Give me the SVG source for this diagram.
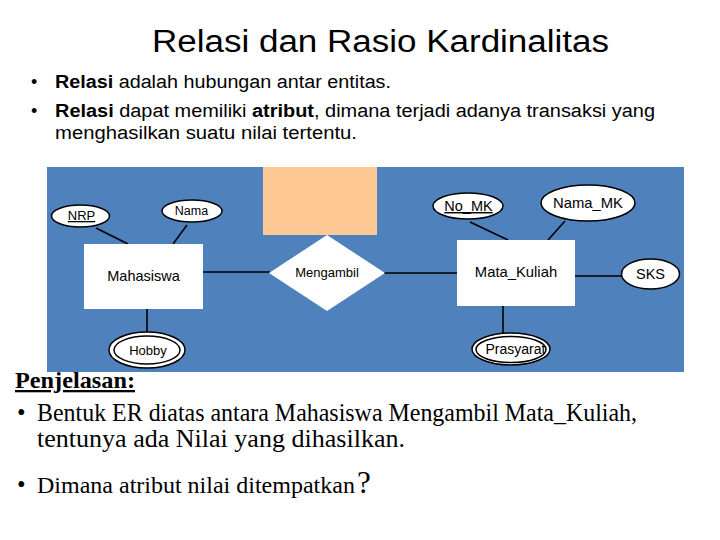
<svg xmlns="http://www.w3.org/2000/svg" width="720" height="540" viewBox="0 0 720 540">
<style>
.cal{font-family:"Liberation Sans","Noto Sans",sans-serif;fill:#000}
.tim{font-family:"Liberation Serif","DejaVu Serif",serif;fill:#000}
.er{font-family:"Liberation Sans",Arial,sans-serif;fill:#000;text-anchor:middle}
.ent{fill:#fff;stroke:none}
.att{fill:#fff;stroke:#000;stroke-width:1.5}
.ln{stroke:#000;stroke-width:1.6;fill:none}
</style>
<rect width="720" height="540" fill="#fff"/>
<text class="cal" x="152" y="52" font-size="31" textLength="457" lengthAdjust="spacingAndGlyphs">Relasi dan Rasio Kardinalitas</text>
<g class="cal" font-size="18">
<text x="31" y="88">•</text>
<text x="55" y="88" textLength="336" lengthAdjust="spacingAndGlyphs"><tspan font-weight="bold">Relasi</tspan> adalah hubungan antar entitas.</text>
<text x="31" y="117">•</text>
<text x="55" y="117" textLength="600" lengthAdjust="spacingAndGlyphs"><tspan font-weight="bold">Relasi</tspan> dapat memiliki <tspan font-weight="bold">atribut</tspan>, dimana terjadi adanya transaksi yang</text>
<text x="55" y="139" textLength="302" lengthAdjust="spacingAndGlyphs">menghasilkan suatu nilai tertentu.</text>
</g>
<rect id="bg" x="47" y="167" width="637" height="205" fill="#4F81BD"/>
<rect id="box" x="263" y="167" width="114" height="68" fill="#FFC995"/>
<g id="connectors">
<line class="ln" x1="96" y1="228" x2="128" y2="244"/>
<line class="ln" x1="187" y1="225" x2="173" y2="244"/>
<line class="ln" x1="147" y1="309" x2="147" y2="332"/>
<line class="ln" x1="203" y1="272" x2="270" y2="272"/>
<line class="ln" x1="384" y1="273" x2="457" y2="273"/>
<line class="ln" x1="470" y1="222" x2="508" y2="240"/>
<line class="ln" x1="565" y1="221" x2="548" y2="240"/>
<line class="ln" x1="575" y1="276" x2="622" y2="276"/>
<line class="ln" x1="503" y1="306" x2="503" y2="333"/>
</g>
<g id="mahasiswa"><rect class="ent" x="84" y="244" width="119" height="65"/><text class="er" x="143.5" y="281" font-size="14.5">Mahasiswa</text></g>
<g id="nrp"><ellipse class="att" cx="80.5" cy="216" rx="29" ry="11"/><text class="er" x="81.5" y="220" font-size="13" text-decoration="underline">NRP</text></g>
<g id="nama"><ellipse class="att" cx="192" cy="211" rx="30" ry="11"/><text class="er" x="191.5" y="215" font-size="12.5">Nama</text></g>
<g id="hobby"><ellipse class="att" cx="147" cy="350" rx="38" ry="18"/><ellipse class="att" cx="147" cy="350" rx="33" ry="14"/><text class="er" x="148" y="355" font-size="13">Hobby</text></g>
<g id="mengambil"><polygon class="ent" points="327,235 385,273 327,311 269,273"/><text class="er" x="327" y="277" font-size="13">Mengambil</text></g>
<g id="matakuliah"><rect class="ent" x="457" y="240" width="118" height="66"/><text class="er" x="516" y="277" font-size="14.8">Mata_Kuliah</text></g>
<g id="nomk"><ellipse class="att" cx="468" cy="206" rx="35" ry="13"/><text class="er" x="468.5" y="211" font-size="14.5" text-decoration="underline">No_MK</text></g>
<g id="namamk"><ellipse class="att" cx="588" cy="203" rx="47" ry="18"/><text class="er" x="588" y="208" font-size="14.8">Nama_MK</text></g>
<g id="sks"><ellipse class="att" cx="650.5" cy="274" rx="29" ry="15"/><text class="er" x="650.5" y="279" font-size="14.5">SKS</text></g>
<g id="prasyarat"><ellipse class="att" cx="511" cy="349" rx="39" ry="16"/><ellipse class="att" cx="511" cy="349.5" rx="35" ry="13"/><text class="er" x="515.5" y="354" font-size="14">Prasyarat</text></g>
<text class="tim" x="15" y="388" font-size="23" font-weight="bold" text-decoration="underline" textLength="120" lengthAdjust="spacingAndGlyphs">Penjelasan:</text>
<g class="tim" font-size="24.5">
<text x="17" y="421">•</text>
<text x="37" y="421" textLength="600" lengthAdjust="spacingAndGlyphs">Bentuk ER diatas antara Mahasiswa Mengambil Mata_Kuliah,</text>
<text x="37" y="447" textLength="368" lengthAdjust="spacingAndGlyphs">tentunya ada Nilai yang dihasilkan.</text>
<text x="17" y="493">•</text>
<text x="37" y="493" font-size="24">Dimana atribut nilai ditempatkan<tspan font-size="31" dx="2">?</tspan></text>
</g>
</svg>
